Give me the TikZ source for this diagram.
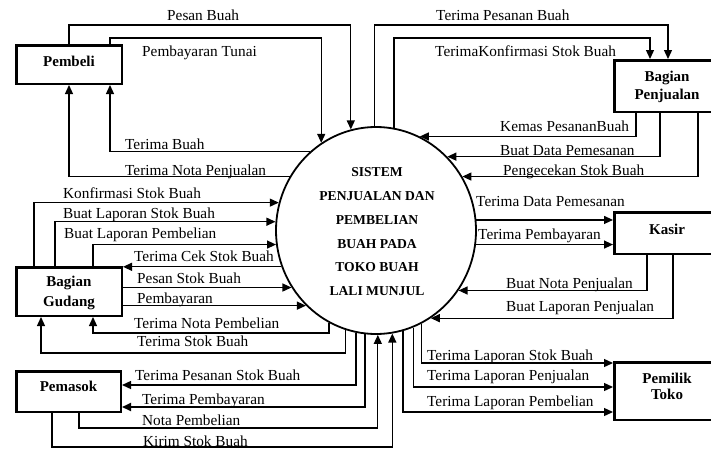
\documentclass[tikz,border=0pt]{standalone}
\usepackage{fontspec}
\setmainfont{Liberation Serif}
\usetikzlibrary{arrows.meta,shapes.geometric}
\begin{document}
\begin{tikzpicture}[x=1pt,y=-1pt,
  lbl/.style={font=\fontsize{15.3}{18}\selectfont, inner sep=0pt, anchor=base west},
  ent/.style={draw, line width=2.5pt, inner sep=0pt, minimum width=105.5pt, font=\fontsize{15}{17}\selectfont\bfseries},
  flow/.style={line width=1.3pt, -{Triangle[length=9pt,width=8pt]}},
  ]
\clip (0,0) rectangle (711,450);
% entities
\node[ent, minimum height=38.5pt] (pembeli) at (69,64.5) {\raisebox{3.5pt}[\height][\depth]{Pembeli}};
\node[ent, minimum height=48.5pt, font=\fontsize{15}{20}\selectfont\bfseries] (gud) at (69,291.5) {\raisebox{-1pt}[\height][\depth]{\begin{tabular}{@{}c@{}}Bagian\\Gudang\end{tabular}}};
\node[ent, minimum width=104.5pt, minimum height=40.5pt] (pem) at (68.5,391.5) {\raisebox{5pt}[\height][\depth]{Pemasok}};
\node[ent, minimum height=51.5pt, font=\fontsize{15}{18.3}\selectfont\bfseries] (bpj) at (667,86) {\raisebox{-1pt}[\height][\depth]{\begin{tabular}{@{}c@{}}Bagian\\Penjualan\end{tabular}}};
\node[ent, minimum height=41.5pt] (ksr) at (667,233) {\raisebox{4pt}[\height][\depth]{Kasir}};
\node[ent, minimum height=57.5pt, font=\fontsize{15}{16}\selectfont\bfseries] (pml) at (667,391) {\raisebox{3pt}[\height][\depth]{\begin{tabular}{@{}c@{}}Pemilik\\Toko\end{tabular}}};
% process
\node[draw, ellipse, line width=1.8pt, minimum width=200pt, minimum height=207pt, inner sep=0pt] (c) at (376,230.5) {};
\node[anchor=north, inner sep=0pt, align=center, font=\fontsize{13.6}{23.8}\selectfont\bfseries] (ctext) at (377,167.5)
  {SISTEM\\PENJUALAN DAN\\PEMBELIAN\\BUAH PADA\\TOKO BUAH\\LALI MUNJUL};
% Pembeli flows
\draw[flow] (69,0 |- pembeli.north) -- (69,25) -| (c.104.6);
\draw[flow] (110,0 |- pembeli.north) -- (110,38) -| (c.122.5);
\draw[flow] (c.130.5) -| (110,0 |- pembeli.south);
\draw[flow] (c.148) -| (69,0 |- pembeli.south);
% Bagian Penjualan flows
\draw[flow] (c.91.1) |- (668,25) -- (668,0 |- bpj.north);
\draw[flow] (c.80.5) |- (650,38) -- (650,0 |- bpj.north);
\draw[flow] (636,0 |- bpj.south) |- (c.65.4);
\draw[flow] (660,0 |- bpj.south) |- (c.46.2);
\draw[flow] (698,0 |- bpj.south) |- (c.32);
% Bagian Gudang flows
\draw[flow] (34,0 |- gud.north) |- (c.164.7);
\draw[flow] (55,0 |- gud.north) |- (c.175.1);
\draw[flow] (93,0 |- gud.north) |- (c.188.3);
\draw[flow] (c.201.9) -- (gud.east |- c.201.9);
\draw[flow] (gud.east |- c.214) -- (c.214);
\draw[flow] (gud.east |- c.227.8) -- (c.227.8);
\draw[flow] (c.243.4) |- (93,333) -- (93,0 |- gud.south);
\draw[flow] (c.253.7) |- (41,353) -- (41,0 |- gud.south);
% Pemasok flows
\draw[flow] (c.259.4) |- (pem.east |- 0,385);
\draw[flow, line width=1.9pt] (c.264.5) |- (pem.east |- 0,407);
\draw[flow] (79,0 |- pem.south) -- (79,428) -| (c.271.1);
\draw[flow] (52,0 |- pem.south) -- (52,447) -| (c.279.5);
% Pemilik Toko flows
\draw[flow] (c.296.6) |- (pml.west |- 0,363);
\draw[flow] (c.291) |- (pml.west |- 0,387);
\draw[flow] (c.285.2) |- (pml.west |- 0,412);
% Kasir flows
\draw[flow] (c.6) -- (ksr.west |- c.6);
\draw[flow] (c.352.8) -- (ksr.west |- c.352.8);
\draw[flow] (647,0 |- ksr.south) |- (c.324);
\draw[flow] (673,0 |- ksr.south) |- (c.302.4);
% labels
\node[lbl] (l1) at (167,20) {Pesan Buah};
\node[lbl] (l2) at (142,56.7) {Pembayaran Tunai};
\node[lbl] (l3) at (125,149) {Terima Buah};
\node[lbl] (l4) at (125,175) {Terima Nota Penjualan};
\node[lbl] (l5) at (436,20) {Terima Pesanan Buah};
\node[lbl] (l6) at (435,56.7) {TerimaKonfirmasi Stok Buah};
\node[lbl] (l7) at (500,131.7) {Kemas PesananBuah};
\node[lbl] (l8) at (500,155) {Buat Data Pemesanan};
\node[lbl] (l9) at (503,175) {Pengecekan Stok Buah};
\node[lbl] (l10) at (63,198.3) {Konfirmasi Stok Buah};
\node[lbl] (l11) at (63,218.3) {Buat Laporan Stok Buah};
\node[lbl] (l12) at (64,238.3) {Buat Laporan Pembelian};
\node[lbl] (l13) at (134,261.7) {Terima Cek Stok Buah};
\node[lbl] (l14) at (137,283.3) {Pesan Stok Buah};
\node[lbl] (l15) at (137,303.3) {Pembayaran};
\node[lbl] (l16) at (134,328.3) {Terima Nota Pembelian};
\node[lbl] (l17) at (137,346.7) {Terima Stok Buah};
\node[lbl] (l18) at (476,206.7) {Terima Data Pemesanan};
\node[lbl] (l19) at (478,239.3) {Terima Pembayaran};
\node[lbl] (l20) at (506,288.3) {Buat Nota Penjualan};
\node[lbl] (l21) at (506,311.7) {Buat Laporan Penjualan};
\node[lbl] (l22) at (135,380.7) {Terima Pesanan Stok Buah};
\node[lbl] (l23) at (142,404) {Terima Pembayaran};
\node[lbl] (l24) at (142,425) {Nota Pembelian};
\node[lbl] (l25) at (143,446.7) {Kirim Stok Buah};
\node[lbl] (l26) at (427,360.7) {Terima Laporan Stok Buah};
\node[lbl] (l27) at (427,380) {Terima Laporan Penjualan};
\node[lbl] (l28) at (427,406) {Terima Laporan Pembelian};
\end{tikzpicture}
\end{document}
